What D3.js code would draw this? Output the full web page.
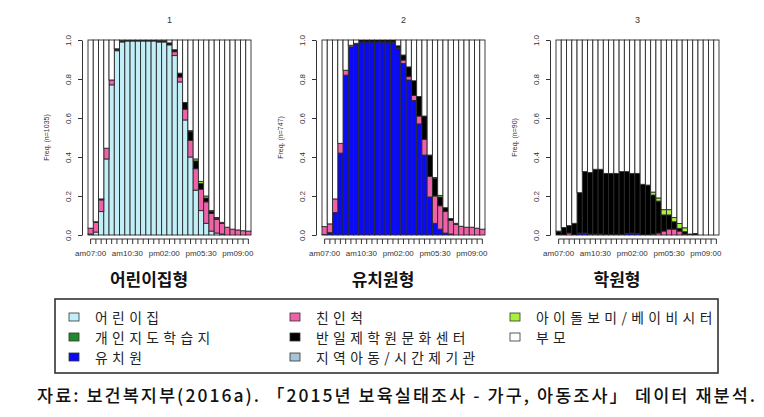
<!DOCTYPE html>
<html><head><meta charset="utf-8">
<script src="https://cdn.jsdelivr.net/npm/d3@7"></script>
<style>body{margin:0;background:#fff}svg{display:block}</style>
</head><body>
<svg id="chart" width="764" height="417"></svg>
<script>
// ---------- data ----------
const timeSlots = ["07:00","07:30","08:00","08:30","09:00","09:30","10:00","10:30","11:00","11:30","12:00","12:30","13:00","13:30","14:00","14:30","15:00","15:30","16:00","16:30","17:00","17:30","18:00","18:30","19:00","19:30","20:00","20:30","21:00","21:30","22:00"];
const xTickLabels = ["am07:00","am10:30","pm02:00","pm05:30","pm09:00"];
const xTickIndex = [0,7,14,21,28];
const yTicks = [0,0.2,0.4,0.6,0.8,1.0];
const stateNames = ["어린이집","개인지도학습지","유치원","친인척","반일제학원문화센터","지역아동/시간제기관","아이돌보미/베이비시터","부모"];
const stateColors = ["#c2eef8","#1e8a2a","#0a0af5","#ef62a8","#000000","#a6c4d6","#a8f03a","#ffffff"];
const panelTitles = ["1","2","3"];
const panelNames = ["어린이집형","유치원형","학원형"];
const panelN = ["1035","747","90"];

// panel 1 (어린이집형)
const p1_daycare   = [0.005,0.015,0.12,0.39,0.77,0.945,0.99,0.995,0.995,0.995,0.995,0.995,0.995,0.99,0.99,0.975,0.92,0.785,0.59,0.40,0.23,0.125,0.06,0.02,0.01,0.005,0,0,0,0,0];
const p1_relative  = [0.03,0.05,0.06,0.055,0.025,0.005,0,0,0,0,0,0,0,0,0,0,0.02,0.025,0.055,0.085,0.11,0.11,0.11,0.09,0.07,0.055,0.04,0.03,0.026,0.022,0.02];
const p1_academy   = [0,0.003,0.005,0,0,0.005,0.005,0.005,0.005,0.005,0.005,0.005,0.005,0.005,0.005,0.01,0.01,0.02,0.035,0.045,0.04,0.03,0.02,0.01,0.005,0.005,0,0,0,0,0];
const p1_sitter    = [0,0,0,0,0,0,0,0,0,0,0,0,0,0,0,0,0,0,0,0.005,0.01,0.01,0.01,0.005,0.005,0,0,0,0,0,0];

// panel 2 (유치원형)
const p2_kinder    = [0.003,0.012,0.115,0.42,0.82,0.965,0.98,0.99,0.99,0.99,0.99,0.99,0.99,0.985,0.955,0.88,0.795,0.69,0.57,0.41,0.195,0.06,0.03,0.01,0.005,0,0,0,0,0,0];
const p2_relative  = [0.04,0.045,0.07,0.05,0.025,0.008,0.003,0,0,0,0,0,0,0.005,0.005,0.017,0.017,0.026,0.04,0.08,0.105,0.14,0.12,0.11,0.07,0.055,0.045,0.04,0.04,0.035,0.03];
const p2_academy   = [0,0,0,0,0,0,0,0.01,0.01,0.01,0.01,0.01,0.01,0.01,0.01,0.026,0.05,0.075,0.10,0.12,0.11,0.09,0.045,0.02,0.01,0.005,0,0,0,0,0];
const p2_sitter    = [0,0,0,0,0,0,0,0,0,0,0,0,0,0,0,0,0,0,0,0,0,0.005,0.008,0,0,0,0,0,0,0,0];

// panel 3 (학원형)
const p3_kinder    = [0,0,0,0,0.01,0.01,0,0,0,0,0,0,0,0.008,0.01,0.008,0,0,0,0,0,0,0,0,0,0,0,0,0,0,0];
const p3_relative  = [0,0,0.01,0,0,0,0.005,0.005,0.005,0.003,0.003,0.003,0.003,0,0,0,0,0,0.005,0.01,0.02,0.03,0.03,0.02,0.005,0,0,0,0,0,0];
const p3_academy   = [0.02,0.038,0.038,0.06,0.207,0.315,0.315,0.332,0.332,0.313,0.313,0.313,0.322,0.317,0.306,0.308,0.26,0.256,0.2,0.164,0.083,0.073,0.038,0.014,0.012,0.005,0.008,0,0,0,0];
const p3_sitter    = [0,0,0,0,0,0,0,0,0,0,0,0,0,0,0,0,0,0,0.015,0.016,0.027,0.027,0.022,0.025,0.02,0,0,0,0,0,0];

const caption = "자료: 보건복지부(2016a). 「2015년 보육실태조사 - 가구, 아동조사」 데이터 재분석.";

// ---------- build ----------
const zeros = timeSlots.map(() => 0);
const panels = [
  [p1_daycare, zeros, zeros, p1_relative, p1_academy, zeros, p1_sitter],
  [zeros, zeros, p2_kinder, p2_relative, p2_academy, zeros, p2_sitter],
  [zeros, zeros, p3_kinder, p3_relative, p3_academy, zeros, p3_sitter]
];

const svg = d3.select("#chart");
svg.append("rect").attr("width",764).attr("height",417).attr("fill","#fff");

const keys = d3.range(stateNames.length);
const plotLefts = [88, 322, 556];
const plotW = 163;
const yTop = 40, yBot = 235;

panels.forEach((series, p) => {
  const rows = timeSlots.map((t, i) => {
    const r = {};
    let s = 0;
    series.forEach((arr, k) => { r[k] = arr[i]; s += arr[i]; });
    r[7] = Math.max(0, 1 - s);
    return r;
  });
  const stacked = d3.stack().keys(keys)(rows);
  const x = d3.scaleBand().domain(d3.range(timeSlots.length)).range([plotLefts[p], plotLefts[p] + plotW]).padding(0);
  const y = d3.scaleLinear().domain([0, 1]).range([yBot, yTop]);
  const g = svg.append("g");

  stacked.forEach((layer, k) => {
    g.append("g").selectAll("rect").data(layer).join("rect")
      .attr("x", (d, i) => x(i))
      .attr("width", x.bandwidth())
      .attr("y", d => y(d[1]))
      .attr("height", d => Math.max(0, y(d[0]) - y(d[1])))
      .attr("fill", stateColors[k])
      .attr("stroke", "#2a2a2a")
      .attr("stroke-width", d => (d[1] - d[0]) > 0 ? 0.9 : 0);
  });

  // y axis
  const ya = svg.append("g").attr("transform", `translate(${plotLefts[p] - 6},0)`)
    .call(d3.axisLeft(y).tickValues(yTicks).tickFormat(d3.format(".1f")).tickSize(4).tickSizeOuter(0));
  ya.select(".domain").attr("stroke", "#333");
  ya.selectAll(".tick line").attr("stroke", "#333");
  ya.selectAll(".tick text")
    .attr("font-family", "Liberation Sans, Arial, sans-serif").attr("font-size", 8).attr("fill", "#333")
    .attr("x", null).attr("dy", null)
    .attr("transform", "translate(-11,0) rotate(-90)")
    .attr("text-anchor", "middle");

  svg.append("text")
    .attr("transform", `translate(${plotLefts[p] - 42},${(yTop + yBot) / 2}) rotate(-90)`)
    .attr("text-anchor", "middle").attr("dominant-baseline", "central")
    .attr("font-family", "Liberation Sans, Arial, sans-serif").attr("font-size", 7).attr("fill", "#333")
    .text(`Freq. (n=${panelN[p]})`);

  // x axis
  const xa = svg.append("g").attr("transform", `translate(0,239)`)
    .call(d3.axisBottom(x).tickSize(5).tickSizeOuter(0)
      .tickFormat(i => { const j = xTickIndex.indexOf(i); return j >= 0 ? xTickLabels[j] : ""; }));
  xa.select(".domain").remove();
  xa.append("line")
    .attr("x1", x(0) + x.bandwidth() / 2).attr("x2", x(timeSlots.length - 1) + x.bandwidth() / 2)
    .attr("stroke", "#333");
  xa.selectAll(".tick line").attr("stroke", "#333");
  xa.selectAll(".tick text")
    .attr("font-family", "Liberation Sans, Arial, sans-serif").attr("font-size", 8).attr("fill", "#333")
    .attr("y", 11);

  // titles
  svg.append("text").attr("x", plotLefts[p] + plotW / 2).attr("y", 23)
    .attr("text-anchor", "middle").attr("font-family", "Liberation Sans, Arial, sans-serif")
    .attr("font-size", 9).attr("fill", "#333").text(panelTitles[p]);
  svg.append("text").attr("x", plotLefts[p] + 61).attr("y", 286)
    .attr("text-anchor", "middle").attr("font-family", "Noto Sans CJK KR, sans-serif")
    .attr("font-weight", 700).attr("font-size", 17).attr("fill", "#111").text(panelNames[p]);
});

// legend (column-major: col0 = states 0-2, col1 = 3-5, col2 = 6-7)
svg.append("rect").attr("x", 55).attr("y", 299).attr("width", 663).attr("height", 74)
  .attr("fill", "#fff").attr("stroke", "#333").attr("stroke-width", 1.6);
const colX = [74, 295, 515];
const rowY = [317, 337, 357];
stateNames.forEach((name, k) => {
  const c = Math.floor(k / 3), r = k % 3;
  const lg = svg.append("g");
  lg.append("rect").attr("x", colX[c] - 5).attr("y", rowY[r] - 4).attr("width", 10).attr("height", 8)
    .attr("fill", stateColors[k]).attr("stroke", "#333").attr("stroke-width", 0.8);
  lg.append("text").attr("x", colX[c] + 21).attr("y", rowY[r]).attr("dominant-baseline", "central")
    .attr("font-family", "Noto Sans CJK KR, sans-serif").attr("font-size", 13.8)
    .attr("letter-spacing", 4.4).attr("fill", "#222").text(name);
});

// caption
svg.append("text").attr("x", 37).attr("y", 402)
  .attr("font-family", "Noto Sans CJK KR, sans-serif").attr("font-size", 17.5).attr("font-weight", 500).attr("fill", "#111")
  .attr("textLength", 718).attr("lengthAdjust", "spacing")
  .text(caption);
</script>
</body></html>
